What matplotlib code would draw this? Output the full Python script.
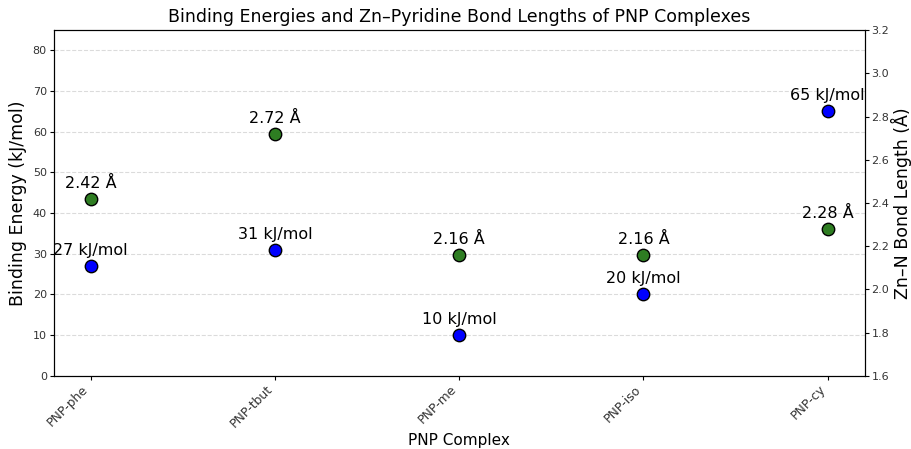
import matplotlib.pyplot as plt

complexes = ['PNP-phe', 'PNP-tbut', 'PNP-me', 'PNP-iso', 'PNP-cy']
binding_energy = [27, 31, 10, 20, 65]
bond_length = [2.42, 2.72, 2.16, 2.16, 2.28]

fig, ax1 = plt.subplots(figsize=(9.12, 4.49), dpi=100)
fig.subplots_adjust(left=0.059, right=0.948, top=0.933, bottom=0.163)

x = range(len(complexes))

# Energías de enlace (eje izquierdo)
ax1.scatter(x, binding_energy, color='blue', edgecolor='black', s=80, zorder=3)
for xi, e in zip(x, binding_energy):
    ax1.annotate(f'{e} kJ/mol', (xi, e), textcoords='offset points', xytext=(0, 8),
                 ha='center', fontsize=11.5)
ax1.set_ylim(0, 85)
ax1.set_ylabel('Binding Energy (kJ/mol)', fontsize=12.5)
ax1.set_xlabel('PNP Complex', fontsize=11, labelpad=2)
ax1.set_xticks(list(x))
ax1.set_xticklabels(complexes, rotation=45, ha='right', fontsize=9)
ax1.tick_params(axis='x', length=3, pad=2, labelcolor='#333333')
ax1.tick_params(axis='y', labelsize=8, length=3, pad=2, labelcolor='#333333')
ax1.grid(axis='y', linestyle='--', color='lightgray', alpha=0.8)

# Longitudes de enlace Zn-N (eje derecho)
ax2 = ax1.twinx()
ax2.scatter(x, bond_length, color='#2e7d22', edgecolor='black', s=80, zorder=3)
for xi, b in zip(x, bond_length):
    ax2.annotate(f'{b:.2f} Å', (xi, b), textcoords='offset points', xytext=(0, 8),
                 ha='center', fontsize=11.5)
ax2.set_ylim(1.6, 3.2)
ax2.set_ylabel('Zn–N Bond Length (Å)', fontsize=12.5, labelpad=1)
ax2.tick_params(axis='y', labelsize=8, length=3, pad=2, labelcolor='#333333')

ax1.set_title('Binding Energies and Zn–Pyridine Bond Lengths of PNP Complexes', fontsize=12.5)

plt.savefig('out.png')
